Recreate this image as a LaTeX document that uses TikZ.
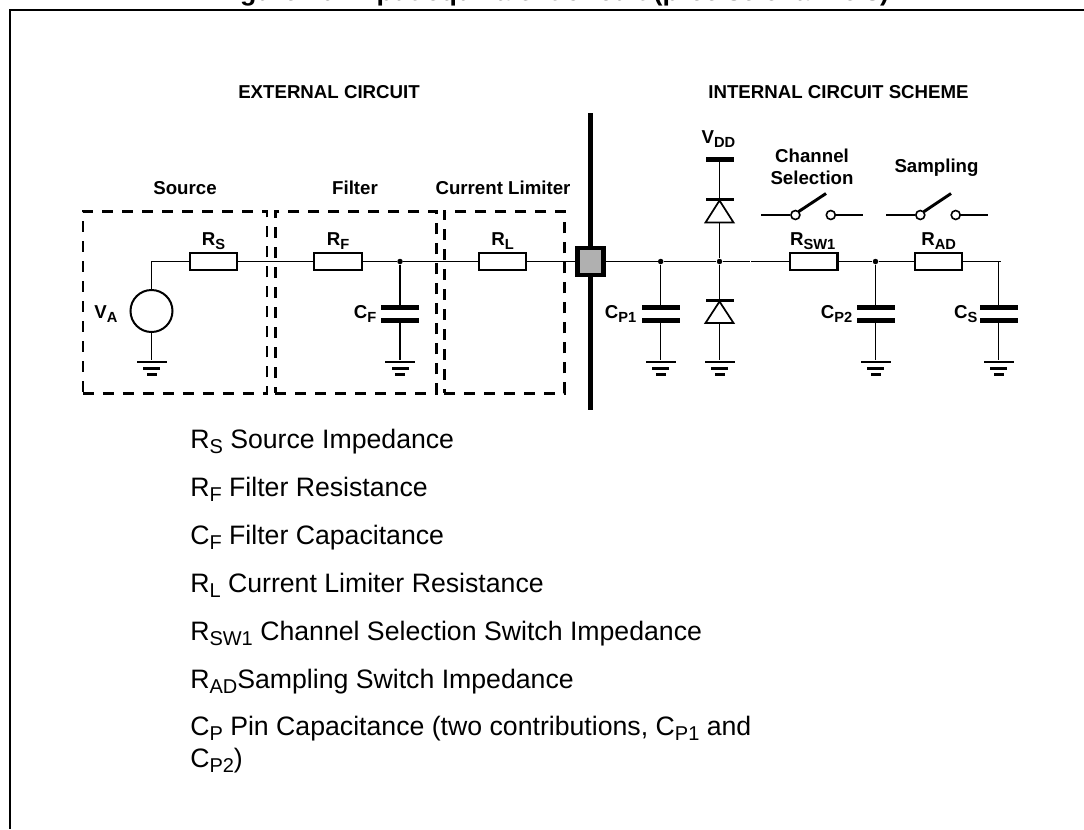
\documentclass[tikz,border=0pt]{standalone}
\usepackage{fontspec}
\setmainfont{Liberation Sans}
\newcommand{\bsub}[1]{\raisebox{-3pt}{\fontsize{11pt}{12pt}\selectfont #1}}
\newcommand{\lsub}[1]{\raisebox{-4.4pt}{\fontsize{15pt}{16pt}\selectfont #1}}
\newcommand{\capgnd}[2]{%
  \node[plate] (#1t) at (#2,307.5) {};
  \node[plate] (#1b) at (#2,320.5) {};
  \groundsym{#1g}{#2}
  \draw[wire] (#1b) -- (#1g);
}
\newcommand{\groundsym}[2]{%
  \node[gbar,minimum width=30*0.75pt] (#1) at (#2,362) {};
  \node[gbar,minimum width=17*0.75pt] at (#2,368.5) {};
  \node[gbar,minimum width=10*0.75pt] at (#2,374.5) {};
}
\tikzset{
  x=0.75pt,y=-0.75pt,
  wire/.style={line width=0.8pt,draw=black},
  res/.style={draw=black,line width=1.8pt,fill=white,rectangle,inner sep=0pt,minimum width=47.5*0.75pt,minimum height=17.5*0.75pt},
  plate/.style={fill=black,rectangle,inner sep=0pt,minimum width=38*0.75pt,minimum height=5*0.75pt},
  gbar/.style={fill=black,rectangle,inner sep=0pt,minimum height=2.6*0.75pt},
  dot/.style={fill=black,circle,inner sep=0pt,minimum size=5.5*0.75pt},
  dashbox/.style={draw=black,line width=2pt,dash pattern=on 8.25pt off 6.75pt,rectangle,inner sep=0pt,anchor=north west},
  lab/.style={inner sep=0pt,font=\fontsize{14pt}{16.5pt}\selectfont\bfseries,align=center},
  leg/.style={inner sep=0pt,anchor=base west,font=\fontsize{20pt}{24pt}\selectfont},
  swpin/.style={draw=black,line width=1.2pt,fill=white,circle,inner sep=0pt,minimum size=9*0.75pt},
  swarm/.style={line width=2.2pt,draw=black},
}
\begin{document}
\begin{tikzpicture}
\useasboundingbox (0,0) rectangle (1084,829);
% title, cut by the page top
\node[inner sep=0pt,anchor=base west,font=\fontsize{20.1pt}{24pt}\selectfont\bfseries] (title) at (216,0) {Figure 10. Input equivalent circuit (precise channels)};
% frame
\draw[line width=1.5pt] (1084,10) -- (10,10) -- (10,829);
% dashed groups
\node[dashbox,minimum width=184*0.75pt,minimum height=182*0.75pt] (src) at (81.5,210) {};
\node[dashbox,minimum width=161*0.75pt,minimum height=182*0.75pt] (flt) at (274,210) {};
\node[dashbox,minimum width=120*0.75pt,minimum height=182*0.75pt] (lim) at (443,210) {};
% group titles
\node[lab] (ext) at (329,92) {EXTERNAL CIRCUIT};
\node[lab] (int) at (838.5,92) {INTERNAL CIRCUIT SCHEME};
\node[lab] (lsrc) at (185,188) {Source};
\node[lab] (lflt) at (355,188) {Filter};
\node[lab] (llim) at (503,188) {Current Limiter};
\node[lab] (lch) at (812,167) {Channel\\Selection};
\node[lab] (lsa) at (936.5,167.5) {Sampling};
% pin bar
\draw[line width=3.75pt] (590.3,113) coordinate (bart) -- (590.3,410) coordinate (barb);
\node[draw=black,line width=3.4pt,fill=black!31,rectangle,inner sep=0pt,minimum width=26*0.75pt,minimum height=27*0.75pt] (pin) at (590.3,261.5) {};
% resistors
\node[res] (Rs) at (213.5,261.5) {};
\node[res] (Rf) at (338,261.5) {};
\node[res] (Rl) at (502.5,261.5) {};
\node[res] (Rsw) at (813.7,261.5) {};
\node[res] (Rad) at (938.5,261.5) {};
% source
\node[draw=black,line width=1.5pt,circle,inner sep=0pt,minimum size=42*0.75pt] (va) at (151.5,311) {};
\coordinate (vac) at (151.5,261.5);
\groundsym{vag}{151.5}
\draw[wire] (va.north) -- (vac) -- (Rs.west);
\draw[wire] (va.south) -- (vag);
% junctions
\node[dot] (jf) at (400,261.5) {};
\node[dot] (j1) at (660.7,261.5) {};
\node[dot] (jd) at (719.5,261.5) {};
\node[dot] (j2) at (875.5,261.5) {};
\coordinate (gapl) at (749.8,261.5);
\coordinate (gapr) at (751,261.5);
\coordinate (cse) at (1000.8,261.5);
\coordinate (csc) at (998.7,261.5);
% caps
\capgnd{cf}{400}
\capgnd{c1}{660.7}
\capgnd{c2}{875.5}
\capgnd{cs}{998.7}
% wires
\draw[wire] (Rs.east) -- (Rf.west);
\draw[wire] (Rf.east) -- (jf) -- (Rl.west);
\draw[wire] (Rl.east) -- (pin.west);
\draw[wire] (pin.east) -- (j1) -- (jd) -- (gapl);
\draw[wire] (gapr) -- (Rsw.west);
\draw[wire] (Rsw.east) -- (j2) -- (Rad.west);
\draw[wire] (Rad.east) -- (cse);
\draw[wire] (jf) -- (cft);
\draw[wire] (j1) -- (c1t);
\draw[wire] (j2) -- (c2t);
\draw[wire] (csc) -- (cst);
% diodes
\node[rectangle,fill=black,inner sep=0pt,minimum width=28*0.75pt,minimum height=5*0.75pt] (vdd) at (719.5,159.5) {};
\node[rectangle,fill=black,inner sep=0pt,minimum width=28*0.75pt,minimum height=2.6*0.75pt] (du) at (719.5,199.5) {};
\node[rectangle,fill=black,inner sep=0pt,minimum width=28*0.75pt,minimum height=2.6*0.75pt] (dl) at (719.5,300.5) {};
\draw[line width=1.3pt,line join=miter] (719.5,200.5) -- (733.5,222.5) coordinate (x1) -- (705.5,222.5) -- cycle;
\draw[line width=1.3pt,line join=miter] (719.5,301.5) -- (733.5,323) -- (705.5,323) -- cycle;
\coordinate (dub) at (719.5,222.5);
\coordinate (dlb) at (719.5,323);
\groundsym{dg}{719.5}
\draw[wire] (vdd) -- (du);
\draw[wire] (dub) -- (jd);
\draw[wire] (jd) -- (dl);
\draw[wire] (dlb) -- (dg);
% switches
\node[swpin] (a1) at (795.4,215) {};
\node[swpin] (a2) at (830.8,215) {};
\node[swpin] (b1) at (920.3,215) {};
\node[swpin] (b2) at (955.7,215) {};
\coordinate (a0) at (761.4,215);
\coordinate (a3) at (862.7,215);
\coordinate (b0) at (886.3,215);
\coordinate (b3) at (987.6,215);
\coordinate (a4) at (826,193.5);
\coordinate (b4) at (951,193.5);
\draw[wire] (a0) -- (a1.west);
\draw[wire] (a2.east) -- (a3);
\draw[wire] (b0) -- (b1.west);
\draw[wire] (b2.east) -- (b3);
\draw[swarm] (a1) ++(3,-3.3) coordinate (a5) -- (a4);
\draw[swarm] (b1) ++(3.5,-3.3) coordinate (b5) -- (b4);
% component labels
\node[lab,anchor=base] (tRs) at (213.5,245) {R\bsub{S}};
\node[lab,anchor=base] (tRf) at (338,245) {R\bsub{F}};
\node[lab,anchor=base] (tRl) at (502.5,245) {R\bsub{L}};
\node[lab,anchor=base] (tRsw) at (812.7,245) {R\bsub{SW1}};
\node[lab,anchor=base] (tRad) at (938.7,245) {R\bsub{AD}};
\node[lab,anchor=base] (tVa) at (106,318) {V\bsub{A}};
\node[lab,anchor=base] (tCf) at (365,318) {C\bsub{F}};
\node[lab,anchor=base] (tC1) at (620.5,318) {C\bsub{P1}};
\node[lab,anchor=base] (tC2) at (836.5,318) {C\bsub{P2}};
\node[lab,anchor=base] (tCs) at (965.8,318) {C\bsub{S}};
\node[lab,anchor=base] (tVd) at (718.5,143) {V\bsub{DD}};
% legend
\node[leg] (l1) at (190,448) {R\lsub{S} Source Impedance};
\node[leg] (l2) at (190,496) {R\lsub{F} Filter Resistance};
\node[leg] (l3) at (190,544) {C\lsub{F} Filter Capacitance};
\node[leg] (l4) at (190,592) {R\lsub{L} Current Limiter Resistance};
\node[leg] (l5) at (190,640) {R\lsub{SW1} Channel Selection Switch Impedance};
\node[leg] (l6) at (190,688) {R\lsub{AD}Sampling Switch Impedance};
\node[leg] (l7) at (190,735) {C\lsub{P} Pin Capacitance (two contributions, C\lsub{P1} and};
\node[leg] (l8) at (190,767) {C\lsub{P2})};
\end{tikzpicture}
\end{document}
